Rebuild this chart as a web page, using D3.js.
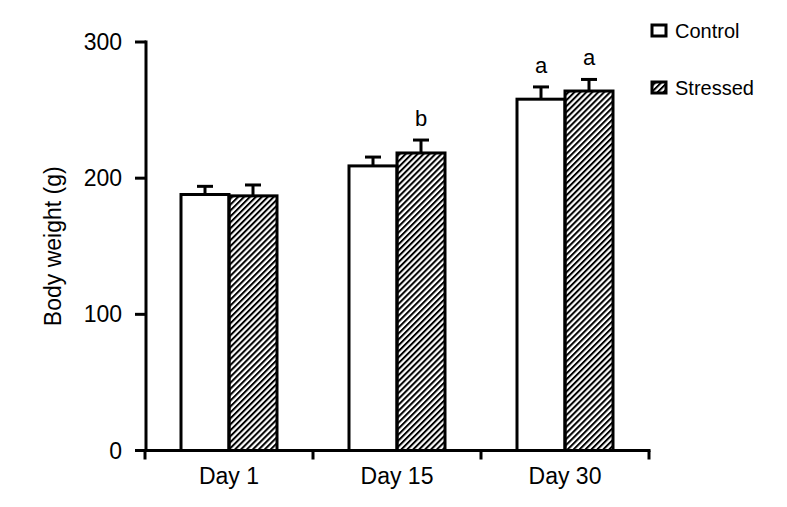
<!DOCTYPE html>
<html>
<head>
<meta charset="utf-8">
<script src="https://cdn.jsdelivr.net/npm/d3@7"></script>
<style>
  body { margin: 0; background: #fff; }
  svg { font-family: "Liberation Sans", Arial, sans-serif; }
</style>
</head>
<body>
<svg class="chart" width="787" height="507"></svg>
<script>
const days = ["Day 1", "Day 15", "Day 30"];
const series = ["Control", "Stressed"];
const controlMean = [188, 209, 258];
const controlErr = [6, 6.5, 9];
const stressedMean = [187, 218.5, 264];
const stressedErr = [8, 9.5, 8.5];
const controlMarks = ["", "", "a"];
const stressedMarks = ["", "b", "a"];
const yTicks = [0, 100, 200, 300];

const svg = d3.select(".chart");

const rows = [];
days.forEach((day, i) => {
  rows.push({ day, s: "Control", v: controlMean[i], e: controlErr[i], m: controlMarks[i] });
  rows.push({ day, s: "Stressed", v: stressedMean[i], e: stressedErr[i], m: stressedMarks[i] });
});

const x0 = d3.scaleBand().domain(days).range([145, 649]);
const x1 = d3.scaleBand().domain(series).range([0, x0.bandwidth()]).paddingOuter(0.75);
const y = d3.scaleLinear().domain([0, 300]).range([450.5, 42]);

// hatch pattern
const defs = svg.append("defs");
defs.append("pattern")
  .attr("id", "hatch")
  .attr("patternUnits", "userSpaceOnUse")
  .attr("width", 4.2)
  .attr("height", 4.2)
  .attr("patternTransform", "rotate(45)")
  .append("rect")
  .attr("x", 0).attr("y", 0)
  .attr("width", 2).attr("height", 4.2)
  .attr("fill", "#000");

const fillFor = (s) => (s === "Control" ? "#fff" : "url(#hatch)");

// bars
const g = svg.append("g");
g.selectAll("rect.bar")
  .data(rows)
  .enter()
  .append("rect")
  .attr("class", "bar")
  .attr("x", (d) => x0(d.day) + x1(d.s))
  .attr("y", (d) => y(d.v))
  .attr("width", x1.bandwidth())
  .attr("height", (d) => y(0) - y(d.v))
  .attr("fill", (d) => fillFor(d.s))
  .attr("stroke", "#000")
  .attr("stroke-width", 3);

// error bars
const cx = (d) => x0(d.day) + x1(d.s) + x1.bandwidth() / 2;
g.selectAll("line.err")
  .data(rows)
  .enter()
  .append("line")
  .attr("x1", cx).attr("x2", cx)
  .attr("y1", (d) => y(d.v))
  .attr("y2", (d) => y(d.v + d.e))
  .attr("stroke", "#000")
  .attr("stroke-width", 3);

g.selectAll("line.cap")
  .data(rows)
  .enter()
  .append("line")
  .attr("x1", (d) => cx(d) - 8).attr("x2", (d) => cx(d) + 8)
  .attr("y1", (d) => y(d.v + d.e))
  .attr("y2", (d) => y(d.v + d.e))
  .attr("stroke", "#000")
  .attr("stroke-width", 3);

g.selectAll("text.mark")
  .data(rows.filter((d) => d.m))
  .enter()
  .append("text")
  .attr("x", cx)
  .attr("y", (d) => y(d.v + d.e) - 14)
  .attr("text-anchor", "middle")
  .attr("font-size", 22)
  .text((d) => d.m);

// y axis
const yAxis = svg.append("g");
yAxis.append("line")
  .attr("x1", 146).attr("x2", 146)
  .attr("y1", y(300) - 1.5).attr("y2", y(0))
  .attr("stroke", "#000").attr("stroke-width", 3);
yAxis.selectAll("line.tick")
  .data(yTicks)
  .enter()
  .append("line")
  .attr("x1", 135).attr("x2", 146)
  .attr("y1", (d) => y(d)).attr("y2", (d) => y(d))
  .attr("stroke", "#000").attr("stroke-width", 3);
yAxis.selectAll("text")
  .data(yTicks)
  .enter()
  .append("text")
  .attr("x", 122)
  .attr("y", (d) => y(d))
  .attr("dy", "0.35em")
  .attr("text-anchor", "end")
  .attr("font-size", 23)
  .text((d) => d);

svg.append("text")
  .attr("transform", `translate(53,${(y(0) + y(300)) / 2}) rotate(-90)`)
  .attr("text-anchor", "middle")
  .attr("dy", "0.35em")
  .attr("font-size", 23)
  .text("Body weight (g)");

// x axis
const xAxis = svg.append("g");
xAxis.append("line")
  .attr("x1", 135).attr("x2", 650.5)
  .attr("y1", y(0)).attr("y2", y(0))
  .attr("stroke", "#000").attr("stroke-width", 3);
const edges = [...days.map((d) => x0(d)), x0.range()[1]];
xAxis.selectAll("line.tick")
  .data(edges)
  .enter()
  .append("line")
  .attr("x1", (d) => d).attr("x2", (d) => d)
  .attr("y1", y(0)).attr("y2", y(0) + 9)
  .attr("stroke", "#000").attr("stroke-width", 3);
xAxis.selectAll("text")
  .data(days)
  .enter()
  .append("text")
  .attr("x", (d) => x0(d) + x0.bandwidth() / 2)
  .attr("y", 484)
  .attr("text-anchor", "middle")
  .attr("font-size", 23)
  .text((d) => d);

// legend
const legend = svg.append("g");
const legY = d3.scalePoint().domain(series).range([31, 88]);
legend.selectAll("rect")
  .data(series)
  .enter()
  .append("rect")
  .attr("x", 652)
  .attr("y", (d) => legY(d) - 6)
  .attr("width", 14)
  .attr("height", 11)
  .attr("fill", fillFor)
  .attr("stroke", "#000")
  .attr("stroke-width", 3);
legend.selectAll("text")
  .data(series)
  .enter()
  .append("text")
  .attr("x", 675)
  .attr("y", (d) => legY(d))
  .attr("dy", "0.35em")
  .attr("font-size", 20)
  .text((d) => d);
</script>
</body>
</html>
